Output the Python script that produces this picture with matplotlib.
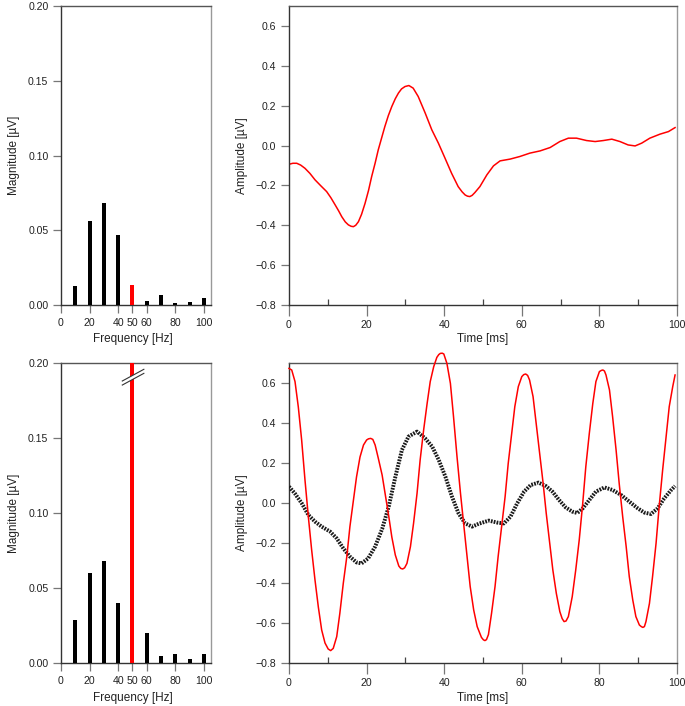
import numpy as np
import matplotlib
matplotlib.use('Agg')
import matplotlib.pyplot as plt
from matplotlib.patches import Polygon

plt.rcParams['font.family'] = ['Liberation Sans', 'DejaVu Sans']

# spectrum (magnitude per frequency bin)
freqs = [10, 20, 30, 40, 50, 60, 70, 80, 90, 100]
mag_clean = [0.013, 0.056, 0.068, 0.047, 0.0135, 0.003, 0.0065, 0.0015, 0.002, 0.0045]
mag_noisy = [0.029, 0.060, 0.068, 0.040, 0.66, 0.020, 0.0045, 0.006, 0.0025, 0.006]
freq_ticks = [0, 20, 40, 50, 60, 80, 100]

# filtered signal (top right)
t_clean = [0, 1.0, 2.0, 3.0, 4.1, 5.4, 6.7, 8.2, 9.7, 10.8, 11.9, 12.8, 13.6, 14.5, 15.3,
           16.0, 16.6, 17.2, 17.9, 18.7, 19.6, 20.5, 21.3, 22.2, 23.0, 23.9, 24.7, 25.6,
           26.5, 27.4, 28.2, 29.0, 29.9, 30.9, 32.0, 33.3, 35.1, 36.8, 38.5, 40.2, 41.9,
           43.6, 44.6, 45.4, 46.0, 46.6, 47.2, 47.9, 49.2, 51.0, 52.7, 54.4, 57.0, 59.5,
           62.1, 64.7, 67.3, 69.8, 72.0, 74.1, 76.7, 78.9, 81.0, 83.2, 85.3, 87.4, 89.2,
           90.9, 93.0, 95.6, 97.8, 99.5]
amp_clean = [-0.094, -0.089, -0.089, -0.098, -0.114, -0.14, -0.172, -0.202, -0.231, -0.262,
             -0.298, -0.328, -0.357, -0.383, -0.398, -0.405, -0.407, -0.4, -0.382, -0.345,
             -0.29, -0.225, -0.156, -0.088, -0.022, 0.04, 0.095, 0.15, 0.196, 0.235, 0.263,
             0.284, 0.296, 0.301, 0.288, 0.246, 0.163, 0.079, 0.012, -0.063, -0.139, -0.206,
             -0.232, -0.248, -0.254, -0.256, -0.25, -0.236, -0.206, -0.147, -0.102, -0.077,
             -0.068, -0.055, -0.038, -0.027, -0.01, 0.02, 0.037, 0.037, 0.025, 0.02, 0.025,
             0.032, 0.02, 0.003, -0.002, 0.012, 0.037, 0.057, 0.07, 0.09]

# raw signal with 50 Hz noise (bottom right, red)
t_noisy = [0, 0.7, 1.55, 2.4, 3.26, 4.12, 4.98, 5.84, 6.7, 7.56, 8.42, 9.28, 10.1, 10.74,
           11.4, 12.3, 13.1, 14.0, 14.9, 15.7, 16.6, 17.4, 18.3, 19.2, 20.0, 20.5, 21.05,
           21.6, 22.2, 23.0, 24.0, 24.8, 25.7, 26.5, 27.4, 28.3, 28.8, 29.3, 29.8, 30.4,
           31.3, 32.1, 33.0, 33.8, 34.7, 35.6, 36.4, 37.3, 38.1, 38.6, 39.0, 39.5, 39.9,
           40.7, 41.6, 42.4, 43.3, 44.2, 45.0, 45.9, 46.7, 47.6, 48.5, 49.6, 50.1, 50.5,
           50.9, 51.4, 52.2, 53.1, 53.9, 54.8, 55.7, 56.5, 57.4, 58.2, 59.1, 60.0, 60.5,
           61.0, 61.5, 62.0, 62.9, 63.7, 64.6, 65.5, 66.3, 67.2, 68.0, 68.9, 69.8, 70.4,
           70.9, 71.4, 72.0, 73.0, 73.9, 74.8, 75.7, 76.5, 77.4, 78.3, 79.1, 80.0, 80.5,
           80.9, 81.3, 81.7, 82.6, 83.4, 84.3, 85.1, 86.0, 86.9, 87.7, 88.6, 89.4, 90.3,
           90.8, 91.2, 91.6, 92.0, 92.9, 93.7, 94.6, 95.4, 96.3, 97.2, 98.0, 98.9, 99.5]
amp_noisy = [0.673, 0.665, 0.607, 0.48, 0.315, 0.115, -0.068, -0.235, -0.385, -0.52, -0.635,
             -0.70, -0.73, -0.738, -0.727, -0.668, -0.552, -0.40, -0.268, -0.118, 0.015, 0.13,
             0.23, 0.29, 0.315, 0.321, 0.323, 0.318, 0.29, 0.225, 0.14, 0.045, -0.065, -0.17,
             -0.26, -0.315, -0.327, -0.33, -0.324, -0.302, -0.218, -0.102, 0.048, 0.215,
             0.365, 0.498, 0.607, 0.682, 0.728, 0.742, 0.748, 0.749, 0.745, 0.698, 0.598,
             0.432, 0.232, 0.048, -0.102, -0.268, -0.418, -0.535, -0.618, -0.672, -0.684,
             -0.688, -0.683, -0.658, -0.552, -0.418, -0.268, -0.118, 0.032, 0.198, 0.348,
             0.482, 0.582, 0.632, 0.642, 0.645, 0.638, 0.615, 0.532, 0.398, 0.248, 0.098,
             -0.052, -0.202, -0.335, -0.452, -0.543, -0.578, -0.593, -0.59, -0.568, -0.468,
             -0.335, -0.185, -0.002, 0.182, 0.348, 0.498, 0.607, 0.657, 0.663, 0.665, 0.66,
             0.64, 0.565, 0.432, 0.265, 0.098, -0.068, -0.218, -0.368, -0.485, -0.568, -0.61,
             -0.618, -0.622, -0.618, -0.593, -0.502, -0.368, -0.202, -0.018, 0.165, 0.332,
             0.482, 0.582, 0.64]

# underlying signal (bottom right, dotted black)
t_signal = [0, 1.5, 3.3, 5.0, 6.7, 8.4, 10.6, 12.3, 14.0, 15.7, 17.4, 18.7, 20.4, 22.2,
            24.0, 25.7, 27.4, 29.1, 30.8, 33.0, 35.1, 36.9, 38.6, 40.3, 42.0, 43.7, 45.4,
            47.2, 49.0, 51.5, 53.7, 55.4, 57.1, 58.8, 60.6, 62.3, 64.3, 66.2, 67.9, 69.6,
            71.3, 73.0, 74.3, 75.7, 77.4, 79.1, 81.3, 83.4, 85.6, 87.7, 89.9, 91.6, 93.3,
            95.0, 96.7, 98.5, 99.5]
amp_signal = [0.082, 0.048, -0.002, -0.06, -0.093, -0.118, -0.143, -0.177, -0.227, -0.268,
              -0.297, -0.302, -0.277, -0.218, -0.13, -0.018, 0.13, 0.265, 0.332, 0.357,
              0.323, 0.282, 0.215, 0.132, 0.032, -0.052, -0.102, -0.118, -0.103, -0.088,
              -0.098, -0.102, -0.068, -0.002, 0.057, 0.09, 0.102, 0.085, 0.057, 0.015,
              -0.022, -0.043, -0.05, -0.027, 0.015, 0.057, 0.078, 0.065, 0.04, 0.007,
              -0.027, -0.048, -0.055, -0.027, 0.023, 0.065, 0.085]

W, H = 685, 706
fig = plt.figure(figsize=(W / 100, H / 100), dpi=100)

def box(l, t, r, b):
    return fig.add_axes([l / W, 1 - b / H, (r - l) / W, (b - t) / H])

ax_f1 = box(61, 6, 211, 305)
ax_t1 = box(289, 6, 677, 305)
ax_f2 = box(61, 363, 211, 663)
ax_t2 = box(289, 363, 677, 663)

TXT = '#222222'

def style(ax):
    ax.spines['left'].set_color('#333333')
    ax.spines['bottom'].set_color('#333333')
    ax.spines['top'].set_color('#555555')
    ax.spines['right'].set_color('#999999')
    for s in ax.spines.values():
        s.set_linewidth(1.0)
    ax.tick_params(axis='both', which='major', direction='out', length=6,
                   width=0.9, color='#777777', labelsize=7.6, labelcolor=TXT, pad=3)


def spectrum(ax, mags):
    colors = ['red' if f == 50 else 'black' for f in freqs]
    ax.bar(freqs, mags, width=2.8, color=colors, edgecolor='none', zorder=3)
    ax.set_xlim(0, 105)
    ax.set_ylim(0, 0.2)
    ax.set_yticks([0, 0.05, 0.1, 0.15, 0.2])
    ax.set_yticklabels(['0.00', '0.05', '0.10', '0.15', '0.20'])
    ax.set_xticks(freq_ticks)
    ax.set_xticklabels([str(f) for f in freq_ticks])
    for lab in ax.get_xticklabels():
        if lab.get_text() == '50':
            lab.set_color('red')
    ax.set_ylabel('Magnitude [\u00b5V]', fontsize=8.5, color=TXT)
    ax.yaxis.set_label_coords(-0.27, 0.5)
    ax.set_xlabel('Frequency [Hz]', fontsize=8.5, color=TXT)
    ax.xaxis.set_label_coords(50 / 105, -0.095)
    style(ax)


def timeplot(ax):
    ax.set_xlim(0, 100)
    ax.set_ylim(-0.8, 0.7)
    ax.set_yticks(np.arange(-0.8, 0.61, 0.2))
    ax.set_yticklabels(['\u22120.8', '\u22120.6', '\u22120.4', '\u22120.2', '0.0', '0.2', '0.4', '0.6'])
    ax.set_xticks([0, 20, 40, 60, 80, 100])
    ax.set_xticks([10, 30, 50, 70, 90], minor=True)
    ax.set_ylabel('Amplitude [\u00b5V]', fontsize=8.5, color=TXT)
    ax.yaxis.set_label_coords(-0.105, 0.5)
    ax.set_xlabel('Time [ms]', fontsize=8.5, color=TXT)
    ax.xaxis.set_label_coords(0.5, -0.095)
    style(ax)
    ax.tick_params(axis='x', which='major', length=8)
    ax.tick_params(axis='x', which='minor', direction='in', length=4, width=0.9, color='#444444')


spectrum(ax_f1, mag_clean)
spectrum(ax_f2, mag_noisy)

# axis break on the 50 Hz bar
brk_x = [42.9, 58.0]
ax_f2.add_patch(Polygon([[42.9, 0.1853], [58.0, 0.1931], [58.0, 0.1958], [42.9, 0.188]],
                        closed=True, facecolor='white', edgecolor='none', zorder=5, clip_on=False))
ax_f2.plot(brk_x, [0.1853, 0.1931], color='#333333', lw=0.8, zorder=6, clip_on=False)
ax_f2.plot(brk_x, [0.188, 0.1958], color='#333333', lw=0.8, zorder=6, clip_on=False)

timeplot(ax_t1)
ax_t1.plot(t_clean, amp_clean, color='red', lw=1.1)

timeplot(ax_t2)
ax_t2.plot(t_signal, amp_signal, color='#1a1a1a', lw=2.8, linestyle=(0, (0.45, 0.3)), zorder=3)
ax_t2.plot(t_noisy, amp_noisy, color='red', lw=1.1, clip_on=False, zorder=4)

fig.savefig('out.png', dpi=100)
